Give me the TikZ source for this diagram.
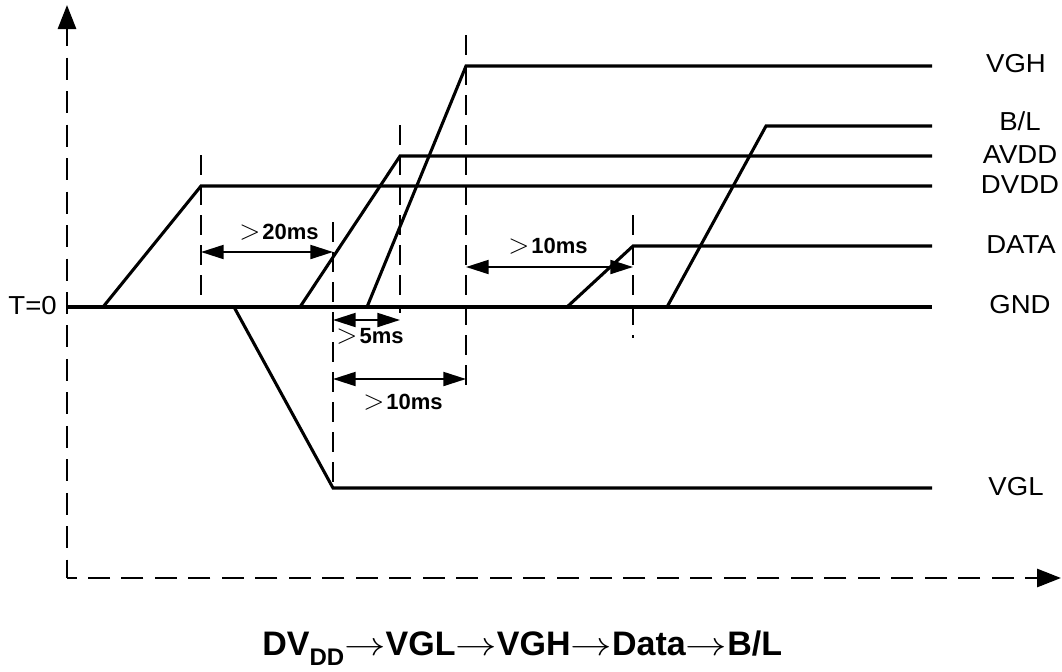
\documentclass[tikz,border=0pt]{standalone}
\usepackage{fontspec}
\setmainfont{Liberation Sans}
\usetikzlibrary{arrows.meta}
\tikzset{
  axis/.style={line width=2.2pt, dash pattern=on 16.5pt off 8.6pt, dash phase=3pt},
  axtip/.style={{Triangle[length=18pt,width=13.5pt]}-},
  sig/.style={line width=2.3pt, line join=miter},
  vmarker/.style={line width=2.2pt, dash pattern=on 15pt off 7.5pt},
  dim/.style={line width=1.5pt, {Triangle[length=17pt,width=10.5pt]}-{Triangle[length=17pt,width=10.5pt]}},
  lbl/.style={font=\fontsize{19.5}{21}\selectfont, inner sep=0pt, xscale=1.06},
  dlbl/.style={font=\fontsize{16.5}{18}\selectfont\bfseries, inner sep=0pt},
}
\newcommand{\gtsym}{{\fontsize{20}{21}\selectfont$>$}\hspace{1.5pt}}
\newcommand{\ttarr}{\scalebox{1.25}[1]{$\rightarrow$}}
\begin{document}
\begin{tikzpicture}[x=0.75pt,y=-0.75pt]
\useasboundingbox (0,0) rectangle (1062,671);
% axes
\coordinate (O) at (67,578);
\coordinate (Ytop) at (67,5);
\coordinate (Xend) at (1061,578);
\draw[axis, axtip] (Ytop) -- (O);
\draw[axis, axtip, dash phase=7pt] (Xend) -- (O);
% GND
\draw[sig] (67,307) -- (932,307);
% DVDD
\draw[sig] (103,307) -- (201,186) -- (932,186);
% VGL
\draw[sig] (234,307) -- (333,488) -- (932,488);
% AVDD
\draw[sig] (300,307) -- (400,156) -- (932,156);
% VGH
\draw[sig] (367,307) -- (466,66) -- (932,66);
% DATA
\draw[sig] (567,307) -- (633,246) -- (932,246);
% B/L
\draw[sig] (667,307) -- (766,126) -- (932,126);
% dashed markers
\draw[vmarker] (201,155) -- (201,307);
\draw[vmarker] (333,222) -- (333,488);
\draw[vmarker] (400,125) -- (400,313);
\draw[vmarker] (466,35) -- (466,388);
\draw[vmarker] (633,215) -- (633,338);
% dimension arrows
\coordinate (d1a) at (201,252); \coordinate (d1b) at (333,252);
\draw[dim] (d1a) -- (d1b);
\node[dlbl] (l20) at (279,232) {\gtsym 20ms};
\coordinate (d2a) at (333,320); \coordinate (d2b) at (400,320);
\draw[dim] (d2a) -- (d2b);
\node[dlbl] (l5) at (370,336) {\gtsym 5ms};
\coordinate (d3a) at (333,379); \coordinate (d3b) at (466,379);
\draw[dim] (d3a) -- (d3b);
\node[dlbl] (l10a) at (403,402) {\gtsym 10ms};
\coordinate (d4a) at (466,267); \coordinate (d4b) at (633,267);
\draw[dim] (d4a) -- (d4b);
\node[dlbl] (l10b) at (548,246) {\gtsym 10ms};
% right labels
\node[lbl] (nVGH) at (1016,64) {VGH};
\node[lbl] (nBL) at (1020,121) {B/L};
\node[lbl] (nAVDD) at (1020,155) {AVDD};
\node[lbl] (nDVDD) at (1020,185) {DVDD};
\node[lbl] (nDATA) at (1021,245) {DATA};
\node[lbl] (nGND) at (1020,305) {GND};
\node[lbl] (nVGL) at (1016,487) {VGL};
\node[lbl, anchor=east] (nT) at (57,306) {T=0};
% bottom title
\node[font=\fontsize{25.5}{27}\selectfont\bfseries, inner sep=0pt, anchor=base west] (title) at (262,655)
  {DV\raisebox{-8pt}{\fontsize{18}{19}\selectfont DD}\ttarr VGL\ttarr VGH\ttarr Data\ttarr B/L};
\end{tikzpicture}
\end{document}
